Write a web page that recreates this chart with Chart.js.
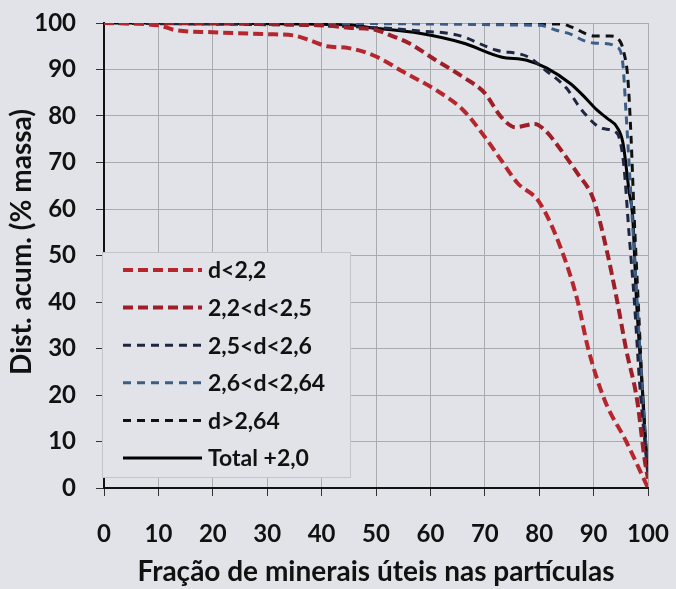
<!DOCTYPE html>
<html>
<head>
<meta charset="utf-8">
<script src="https://cdn.jsdelivr.net/npm/chart.js@4.4.1/dist/chart.umd.min.js"></script>
<style>
  html, body { margin: 0; padding: 0; background: #e1e3e8; }
  #wrap { width: 676px; height: 589px; }
</style>
</head>
<body>
<div id="wrap"><canvas id="distChart"></canvas></div>
<script>
// x = fração de minerais úteis (%), y = distribuição acumulada (% massa)
const xTicks = [0, 10, 20, 30, 40, 50, 60, 70, 80, 90, 100];
const yTicks = [0, 10, 20, 30, 40, 50, 60, 70, 80, 90, 100];

const xD22 = [0, 10, 13, 20, 30, 35, 38, 41, 45, 50, 55, 61, 66, 70, 73, 76, 80, 84, 87, 89, 92, 96, 100];
const yD22 = [100, 99.5, 98.5, 98, 97.6, 97.3, 96.2, 95, 94.6, 92.8, 89.5, 85.6, 81.3, 75.5, 70.5, 65.6, 61.5, 51.5, 40.5, 30, 19, 10, 0];

const xD25 = [0, 40, 45, 50, 53, 56, 61, 66, 70, 73, 75.6, 79.2, 81, 84, 87, 90, 92.4, 94.3, 96, 98, 99.4, 100];
const yD25 = [100, 99.5, 99, 98.5, 97.2, 95.7, 92, 88.4, 84.9, 79.8, 77.6, 78.3, 77, 72.7, 67.7, 62, 51.2, 40.4, 29.7, 18.9, 6, 2];

const xD26 = [0, 50, 58, 65, 72, 78, 81, 85, 88, 91.7, 94.3, 95.5, 96.5, 97.5, 98.5, 100];
const yD26 = [100, 99, 98.3, 97.4, 94.2, 92.7, 90, 86, 81, 77.3, 76.3, 70, 55, 40, 22, 3];

const xD264 = [0, 80, 83, 86, 88, 90, 92, 94.3, 95.3, 96, 97, 98, 99, 100];
const yD264 = [100, 99.5, 98.5, 97.5, 96.3, 95.7, 95.6, 94.8, 92, 80, 60, 40, 20, 3];

const xDgt = [0, 84, 86, 88, 90, 93, 94.9, 95.6, 96.3, 96.9, 97.4, 98.2, 99.1, 100];
const yDgt = [100, 99.8, 99.1, 98, 97.2, 97.2, 96, 93.5, 88, 75, 60, 40, 18, 3];

const xTotal = [0, 45, 49, 58, 66, 73, 77.7, 81.4, 85.7, 88, 90.6, 92.5, 94.3, 95.4, 96.5, 97.2, 97.9, 99.1, 99.8, 100];
const yTotal = [100, 99.6, 99, 97.8, 95.7, 92.7, 92, 90.3, 87, 84.5, 81.3, 79.5, 77.6, 74.2, 64, 58, 40, 19, 5, 3];

const seriesLabels = ['d<2,2', '2,2<d<2,5', '2,5<d<2,6', '2,6<d<2,64', 'd>2,64', 'Total +2,0'];

const FONT = 'Lato, "Open Sans", sans-serif';
const BG = '#e1e3e8';

function pts(xs, ys) { return xs.map((x, i) => ({ x: x, y: ys[i] })); }

function series(label, xs, ys, color, dash, width) {
  return {
    label: label, data: pts(xs, ys),
    borderColor: color, borderWidth: width, borderDash: dash,
    pointRadius: 0, fill: false, cubicInterpolationMode: 'monotone'
  };
}

// legend drawn inside the plot, over the lower-left corner
const innerLegend = {
  id: 'innerLegend',
  afterDatasetsDraw(chart) {
    const ctx = chart.ctx, a = chart.chartArea;
    const left = a.left - 2, top = a.bottom - 236, w = 248, h = 225;
    ctx.save();
    ctx.fillStyle = BG;
    ctx.fillRect(left, top, w, h);
    ctx.strokeStyle = '#c3c5c9';
    ctx.lineWidth = 1;
    ctx.strokeRect(left + 0.5, top + 0.5, w, h);
    ctx.font = 'bold 23px ' + FONT;
    ctx.textBaseline = 'middle';
    ctx.fillStyle = '#111';
    chart.data.datasets.forEach((ds, i) => {
      const y = top + 18 + i * 37.6;
      ctx.beginPath();
      ctx.setLineDash(ds.borderDash || []);
      ctx.strokeStyle = ds.borderColor;
      ctx.lineWidth = ds.borderWidth;
      ctx.moveTo(left + 21, y);
      ctx.lineTo(left + 100, y);
      ctx.stroke();
      ctx.setLineDash([]);
      ctx.fillText(ds.label, left + 106, y + 1);
    });
    ctx.restore();
  }
};

// rotated y-axis title
const yTitle = {
  id: 'yTitle',
  afterDraw(chart) {
    const ctx = chart.ctx;
    ctx.save();
    ctx.translate(22, 242);
    ctx.rotate(-Math.PI / 2);
    ctx.font = 'bold 28px ' + FONT;
    ctx.fillStyle = '#111';
    ctx.textAlign = 'center';
    ctx.textBaseline = 'middle';
    ctx.fillText('Dist. acum. (% massa)', 0, 0);
    ctx.restore();
  }
};

new Chart(document.getElementById('distChart').getContext('2d'), {
  type: 'line',
  data: {
    datasets: [
      series(seriesLabels[0], xD22, yD22, '#b7262d', [10, 5], 4),
      series(seriesLabels[1], xD25, yD25, '#9e1f27', [10, 5], 4),
      series(seriesLabels[2], xD26, yD26, '#1f2740', [8, 6], 3),
      series(seriesLabels[3], xD264, yD264, '#3c5d85', [8, 6], 3),
      series(seriesLabels[4], xDgt, yDgt, '#111111', [8, 6], 3),
      series(seriesLabels[5], xTotal, yTotal, '#000000', [], 3)
    ]
  },
  options: {
    responsive: true, maintainAspectRatio: false, animation: false,
    layout: { padding: { top: 23, right: 28, left: 0, bottom: 0 } },
    plugins: { legend: { display: false }, tooltip: { enabled: false } },
    scales: {
      x: {
        type: 'linear', min: 0, max: 100,
        afterBuildTicks: s => { s.ticks = xTicks.map(v => ({ value: v })); },
        afterFit: s => { s.height = 101; s.paddingLeft = 0; s.paddingRight = 0; },
        grid: { color: '#a9abaf', lineWidth: 1, tickLength: 8, tickColor: '#333' },
        border: { color: '#111', width: 2 },
        ticks: { padding: 24, color: '#111', font: { family: FONT, size: 24, weight: 'bold' } },
        title: { display: true, text: 'Fração de minerais úteis nas partículas', color: '#111', padding: { top: 0, bottom: 0 },
                 font: { family: FONT, size: 28, weight: 'bold' } }
      },
      y: {
        type: 'linear', min: 0, max: 100,
        afterBuildTicks: s => { s.ticks = yTicks.map(v => ({ value: v })); },
        afterFit: s => { s.width = 104; s.paddingTop = 0; s.paddingBottom = 0; },
        grid: { color: '#a9abaf', lineWidth: 1, tickLength: 8, tickColor: '#333' },
        border: { color: '#111', width: 2 },
        ticks: { padding: 20, color: '#111', font: { family: FONT, size: 24, weight: 'bold' } }
      }
    }
  },
  plugins: [innerLegend, yTitle]
});
</script>
</body>
</html>
